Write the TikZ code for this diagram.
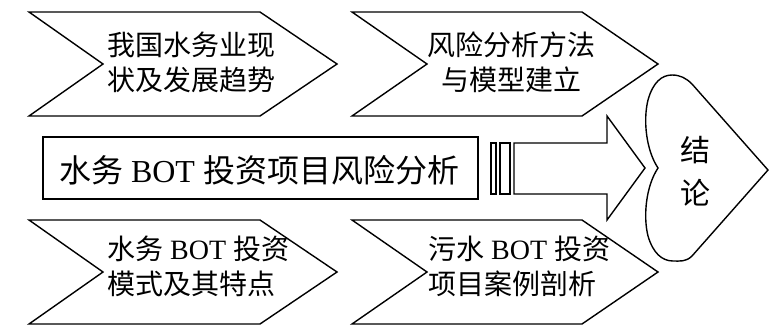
\documentclass[tikz,border=0pt]{standalone}
\usepackage{fontspec}
\setmainfont{Liberation Serif}
\newfontfamily\cjk{Noto Sans CJK SC}
\newcommand\zh[1]{{\cjk #1}}
\begin{document}
\begin{tikzpicture}[x=1pt,y=-1pt,
  shapeline/.style={draw=black,line width=1.4pt,line join=miter,fill=white},
  chevtext/.style={inner sep=0pt,font=\fontsize{28}{35}\selectfont},
  midtext/.style={inner sep=0pt,font=\fontsize{32}{38}\selectfont},
  hearttext/.style={inner sep=0pt,align=center,font=\fontsize{30}{43}\selectfont}]
\useasboundingbox (0,0) rectangle (770,325);
% chevrons
\draw[shapeline] (29,12) -- (260,12) -- (337,64) -- (260,116) -- (29,116) -- (103,64) -- cycle;
\draw[shapeline] (352,12) -- (582,12) -- (658,64) -- (582,116) -- (352,116) -- (427,64) -- cycle;
\draw[shapeline] (29,220) -- (260,220) -- (337,272) -- (260,324) -- (29,324) -- (103,272) -- cycle;
\draw[shapeline] (352,220) -- (582,220) -- (658,272) -- (582,324) -- (352,324) -- (427,272) -- cycle;
% main box
\draw[shapeline] (43,137) rectangle (478,199);
% bars and arrow
\draw[shapeline] (491,143) rectangle (496,194);
\draw[shapeline] (500,143) rectangle (510,194);
\draw[shapeline] (514,143) -- (607,143) -- (607,116) -- (645,168) -- (607,220) -- (607,194) -- (514,194) -- cycle;
% heart
\draw[shapeline] (658,168) .. controls (646,150) and (643,120) .. (648,100)
  .. controls (653,82) and (662,75) .. (672,75)
  .. controls (680,75) and (686,78) .. (692,84) -- (768,170) -- (692,256)
  .. controls (686,262) and (680,261) .. (673,261)
  .. controls (662,261) and (653,253) .. (648,236)
  .. controls (643,216) and (646,186) .. (658,168) -- cycle;
% texts
\node[chevtext,anchor=west,align=left] (t1) at (107,62) {\zh{我国水务业现}\\\zh{状及发展趋势}};
\node[chevtext,align=center] (t2) at (511,62) {\zh{风险分析方法}\\\zh{与模型建立}};
\node[chevtext,anchor=west,align=left] (t3) at (107,266) {\zh{水务} BOT \zh{投资}\\\zh{模式及其特点}};
\node[chevtext,anchor=west,align=left] (t4) at (428,266) {\zh{污水} BOT \zh{投资}\\\zh{项目案例剖析}};
\node[midtext] (tm) at (259,170) {\zh{水务} BOT \zh{投资项目风险分析}};
\node[hearttext] (th) at (695,171) {\zh{结}\\\zh{论}};
\end{tikzpicture}
\end{document}
